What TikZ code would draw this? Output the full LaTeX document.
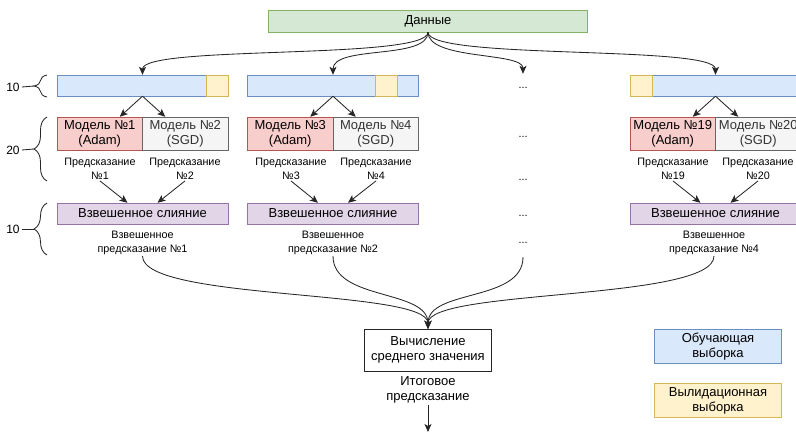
\documentclass[tikz,border=0pt]{standalone}
\usepackage{fontspec}
\setmainfont{Liberation Sans}
\usetikzlibrary{arrows.meta,decorations.pathreplacing}

\definecolor{trainfill}{HTML}{DAE8FC}
\definecolor{traindraw}{HTML}{6C8EBF}
\definecolor{validfill}{HTML}{FFF2CC}
\definecolor{validdraw}{HTML}{D6B656}
\definecolor{adamfill}{HTML}{F8CECC}
\definecolor{adamdraw}{HTML}{B85450}
\definecolor{sgdfill}{HTML}{F5F5F5}
\definecolor{sgddraw}{HTML}{666666}
\definecolor{mergefill}{HTML}{E1D5E7}
\definecolor{mergedraw}{HTML}{9673A6}
\definecolor{datafill}{HTML}{D5E8D4}
\definecolor{datadraw}{HTML}{82B366}

\tikzset{
  box/.style={draw, inner sep=0pt, align=center, font=\fontsize{13}{15}\selectfont},
  train/.style={box, fill=trainfill, draw=traindraw, minimum width=171pt, minimum height=21pt},
  valid/.style={box, fill=validfill, draw=validdraw, minimum width=22pt, minimum height=21pt},
  adam/.style={box, fill=adamfill, draw=adamdraw, minimum width=85.5pt, minimum height=33pt},
  sgd/.style={box, fill=sgdfill, draw=sgddraw, text=black!80, minimum width=85.5pt, minimum height=33pt},
  merge/.style={box, fill=mergefill, draw=mergedraw, minimum width=171pt, minimum height=21pt},
  legend/.style={box, minimum width=127pt, minimum height=34pt},
  predlbl/.style={align=center, inner sep=1pt, font=\fontsize{10.8}{14}\selectfont},
  gap/.style={minimum height=28pt, inner sep=0pt, font=\fontsize{10.8}{14}\selectfont},
  countlbl/.style={inner sep=2pt, font=\fontsize{12}{14}\selectfont},
  arr/.style={-{Stealth[length=8pt,width=7pt,inset=2pt]}, line width=0.85pt, black!85},
  brc/.style={decorate, decoration={brace, amplitude=13pt}, line width=0.85pt, black!85},
}

\begin{document}
\begin{tikzpicture}[x=1pt, y=-1pt]
    \useasboundingbox (0,0) rectangle (796,432);

    \node[box, fill=datafill, draw=datadraw, minimum width=319pt, minimum height=22pt] (data) at (428,21) {Данные};

    \node[train] (bar1) at (142.5,85.5) {};
    \node[valid, anchor=east] (val1) at (bar1.east) {};
    \node[train] (bar2) at (333,85.5) {};
    \node[valid, anchor=east] (val2) at ([xshift=-21pt]bar2.east) {};
    \node[train] (bar4) at (715.5,85.5) {};
    \node[valid, anchor=west] (val4) at (bar4.west) {};

    \node[adam] (m1) at (99.75,133.5) {Модель №1\\(Adam)};
    \node[sgd] (m2) at (185.25,133.5) {Модель №2\\(SGD)};
    \node[adam] (m3) at (290.25,133.5) {Модель №3\\(Adam)};
    \node[sgd] (m4) at (375.75,133.5) {Модель №4\\(SGD)};
    \node[adam] (m19) at (672.75,133.5) {Модель №19\\(Adam)};
    \node[sgd] (m20) at (758.25,133.5) {Модель №20\\(SGD)};

    \node[predlbl] (p1) at (100,169) {Предсказание\\№1};
    \node[predlbl] (p2) at (185,169) {Предсказание\\№2};
    \node[predlbl] (p3) at (291,169) {Предсказание\\№3};
    \node[predlbl] (p4) at (376,169) {Предсказание\\№4};
    \node[predlbl] (p19) at (673,169) {Предсказание\\№19};
    \node[predlbl] (p20) at (758,169) {Предсказание\\№20};

    \node[merge] (w1) at (142.5,213.5) {Взвешенное слияние};
    \node[merge] (w2) at (333,213.5) {Взвешенное слияние};
    \node[merge] (w4) at (715.5,213.5) {Взвешенное слияние};

    \node[predlbl] (wl1) at (142.5,243) {Взвешенное\\предсказание №1};
    \node[predlbl] (wl2) at (333,243) {Взвешенное\\предсказание №2};
    \node[predlbl] (wl4) at (714,243) {Взвешенное\\предсказание №4};

    \node[gap] (d1) at (523,88) {...};
    \node[gap] (d2) at (523,137) {...};
    \node[gap] (d3) at (523,180) {...};
    \node[gap] (d4) at (523,216) {...};
    \node[gap] (d5) at (523,243) {...};

    \node[box, fill=white, draw=black!85, minimum width=127pt, minimum height=42pt] (calc) at (428,350) {Вычисление\\среднего значения};
    \node[predlbl, font=\fontsize{13}{15}\selectfont] (res) at (428,390) {Итоговое\\предсказание};
    \coordinate (out) at (428,432);

    \node[legend, fill=trainfill, draw=traindraw] (legtrain) at (718,346.5) {Обучающая\\выборка};
    \node[legend, fill=validfill, draw=validdraw] (legvalid) at (718,400.5) {Вылидационная\\выборка};

    \draw[arr] (data.south) .. controls +(0,28) and +(0,-30) .. (bar1.north);
    \draw[arr] (data.south) .. controls +(0,28) and +(0,-30) .. (bar2.north);
    \draw[arr] (data.south) .. controls +(0,28) and +(0,-22) .. (d1.north);
    \draw[arr] (data.south) .. controls +(0,28) and +(0,-30) .. (bar4.north);

    \draw[arr] (bar1.south) -- ([xshift=20pt]m1.north);
    \draw[arr] (bar1.south) -- ([xshift=-20pt]m2.north);
    \draw[arr] (bar2.south) -- ([xshift=20pt]m3.north);
    \draw[arr] (bar2.south) -- ([xshift=-20pt]m4.north);
    \draw[arr] (bar4.south) -- ([xshift=20pt]m19.north);
    \draw[arr] (bar4.south) -- ([xshift=-20pt]m20.north);

    \draw[arr] (p1.south) -- ([xshift=-15pt]w1.north);
    \draw[arr] (p2.south) -- ([xshift=15pt]w1.north);
    \draw[arr] (p3.south) -- ([xshift=-15pt]w2.north);
    \draw[arr] (p4.south) -- ([xshift=15pt]w2.north);
    \draw[arr] (p19.south) -- ([xshift=-15pt]w4.north);
    \draw[arr] (p20.south) -- ([xshift=15pt]w4.north);

    \draw[arr] (wl1.south) .. controls +(0,45) and +(0,-40) .. (calc.north);
    \draw[arr] (wl2.south) .. controls +(0,45) and +(0,-40) .. (calc.north);
    \draw[arr] (d5.south) .. controls +(0,45) and +(0,-40) .. (calc.north);
    \draw[arr] (wl4.south) .. controls +(0,45) and +(0,-40) .. (calc.north);
    \draw[arr] (res.south) -- (out);

    \node[countlbl] (n1) at (13,87) {10};
    \node[countlbl] (n2) at (13,150) {20};
    \node[countlbl] (n3) at (13,229) {10};
    \coordinate (t1) at (34,86);
    \coordinate (t2) at (34,149);
    \coordinate (t3) at (34,229);
    \draw[brc] (47,97) -- (47,75);
    \draw[brc] (47,181) -- (47,117);
    \draw[brc] (47,255) -- (47,203);
    \draw[line width=0.85pt, black!85] (n1.east) -- (t1);
    \draw[line width=0.85pt, black!85] (n2.east) -- (t2);
    \draw[line width=0.85pt, black!85] (n3.east) -- (t3);
  \end{tikzpicture}
\end{document}
